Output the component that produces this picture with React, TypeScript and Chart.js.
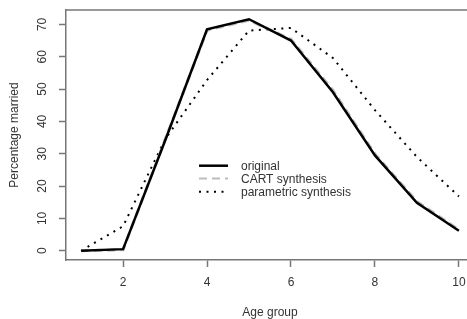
import { useEffect, useRef } from "react";
import { Chart, registerables } from "chart.js";
Chart.register(...registerables);

const ageGroups = [1, 2, 3, 4, 5, 6, 7, 8, 9, 10];
const original = [0, 0.5, 34, 68.5, 71.6, 65, 49, 29.5, 14.8, 6.2];
const cartSynthesis = [0, 0.3, 34.3, 68.2, 71.3, 65.4, 49.6, 29.9, 15.2, 6.5];
const parametricSynthesis = [0, 7.6, 34.5, 52.8, 68.1, 68.9, 59.6, 43.5, 29, 16.8];
const xTicks = [2, 4, 6, 8, 10];
const yTicks = [0, 10, 20, 30, 40, 50, 60, 70];
const seriesLabels = ["original", "CART synthesis", "parametric synthesis"];
const xTitle = "Age group";
const yTitle = "Percentage married";

const FONT = '12px "Liberation Sans", Arial, sans-serif';
const TEXT = "#333";
const AXIS = "#777";

const styles = [
  { color: "#000", width: 2.5, legendWidth: 2.5, dash: [] as number[] },
  { color: "#bdbdbd", width: 3, legendWidth: 2, dash: [8, 5] },
  { color: "#000", width: 2, legendWidth: 2, dash: [2, 5.5] },
];

export default function App() {
  const ref = useRef<HTMLCanvasElement | null>(null);
  useEffect(() => {
    if (!ref.current) return;
    const series = [original, cartSynthesis, parametricSynthesis];
    const decor = {
      id: "decor",
      afterDraw(chart: any) {
        const ctx = chart.ctx as CanvasRenderingContext2D;
        const a = chart.chartArea;
        const xs = chart.scales.x;
        const ys = chart.scales.y;
        ctx.save();
        ctx.strokeStyle = AXIS;
        ctx.lineWidth = 1.5;
        ctx.beginPath();
        ctx.moveTo(a.left, a.top);
        ctx.lineTo(a.right, a.top);
        ctx.lineTo(a.right, a.bottom);
        ctx.stroke();
        ctx.fillStyle = TEXT;
        ctx.font = FONT;
        ctx.textAlign = "center";
        ctx.textBaseline = "middle";
        xTicks.forEach((v) => {
          ctx.fillText(String(v), xs.getPixelForValue(v), 283);
        });
        yTicks.forEach((v) => {
          ctx.save();
          ctx.translate(43, ys.getPixelForValue(v));
          ctx.rotate(-Math.PI / 2);
          ctx.fillText(String(v), 0, 0);
          ctx.restore();
        });
        ctx.fillText(xTitle, (a.left + a.right) / 2, 313);
        ctx.save();
        ctx.translate(15, (a.top + a.bottom) / 2);
        ctx.rotate(-Math.PI / 2);
        ctx.fillText(yTitle, 0, 0);
        ctx.restore();
        const rows = [165.7, 178.5, 191.7];
        seriesLabels.forEach((lab, i) => {
          const s = styles[i];
          ctx.save();
          ctx.strokeStyle = s.color;
          ctx.lineWidth = s.legendWidth;
          ctx.setLineDash(s.dash);
          ctx.beginPath();
          ctx.moveTo(199, rows[i]);
          ctx.lineTo(228, rows[i]);
          ctx.stroke();
          ctx.restore();
          ctx.textAlign = "left";
          ctx.fillText(lab, 241, rows[i] + 1);
        });
        ctx.restore();
      },
    };
    const chart = new Chart(ref.current, {
      type: "line",
      data: {
        datasets: series.map((vals, i) => ({
          label: seriesLabels[i],
          data: ageGroups.map((x, j) => ({ x, y: vals[j] })),
          borderColor: styles[i].color,
          borderWidth: styles[i].width,
          borderDash: styles[i].dash,
          pointRadius: 0,
          tension: 0,
          fill: false,
        })),
      },
      options: {
        animation: false,
        responsive: false,
        maintainAspectRatio: false,
        layout: { padding: { top: 10, right: 16, left: 0, bottom: 0 } },
        plugins: { legend: { display: false }, tooltip: { enabled: false } },
        scales: {
          x: {
            type: "linear",
            min: 0.64,
            max: 10.36,
            afterBuildTicks: (s: any) => {
              s.ticks = xTicks.map((v) => ({ value: v }));
            },
            afterFit: (s: any) => {
              s.height = 59;
            },
            ticks: { display: false },
            grid: {
              drawOnChartArea: false,
              drawTicks: true,
              tickLength: 7,
              tickColor: AXIS,
              tickWidth: 1.5,
            },
            border: { display: true, color: AXIS, width: 1.5 },
          },
          y: {
            type: "linear",
            min: -2.86,
            max: 74.46,
            afterBuildTicks: (s: any) => {
              s.ticks = yTicks.map((v) => ({ value: v }));
            },
            afterFit: (s: any) => {
              s.width = 66;
            },
            ticks: { display: false },
            grid: {
              drawOnChartArea: false,
              drawTicks: true,
              tickLength: 7,
              tickColor: AXIS,
              tickWidth: 1.5,
            },
            border: { display: true, color: AXIS, width: 1.5 },
          },
        },
      },
      plugins: [decor],
    });
    return () => chart.destroy();
  }, []);
  return (
    <div
      style={{
        position: "absolute",
        left: 0,
        top: 0,
        width: 467,
        height: 319,
        overflow: "hidden",
        background: "#fff",
      }}
    >
      <canvas ref={ref} width={490} height={319} style={{ width: 490, height: 319, display: "block" }} />
    </div>
  );
}
